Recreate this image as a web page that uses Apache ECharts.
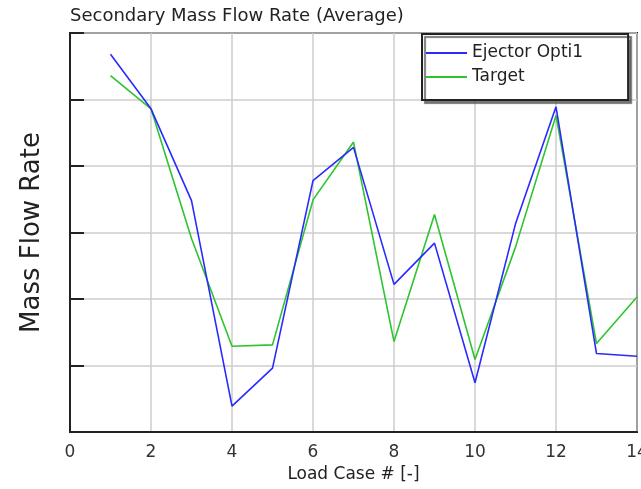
<!DOCTYPE html>
<html>
<head>
<meta charset="utf-8">
<script src="https://cdn.jsdelivr.net/npm/echarts@6/dist/echarts.min.js"></script>
<style>
  html, body { margin: 0; padding: 0; background: #fff; }
  #chart { width: 641px; height: 489px; }
</style>
</head>
<body>
<div id="chart"></div>
<script>
// Load cases along the x axis
const loadCases = [1, 2, 3, 4, 5, 6, 7, 8, 9, 10, 11, 12, 13, 14];
// Secondary mass flow rate (average), arbitrary units
const ejectorOpti1 = [5.68, 4.86, 3.48, 0.39, 0.96, 3.78, 4.28, 2.22, 2.84, 0.74, 3.13, 4.89, 1.18, 1.14];
const target = [5.36, 4.86, 2.91, 1.29, 1.31, 3.49, 4.36, 1.36, 3.27, 1.09, 2.78, 4.76, 1.33, 2.03];
const xTicks = [0, 2, 4, 6, 8, 10, 12, 14];

const FONT = 'DejaVu Sans';
const pairs = (ys) => loadCases.map((x, i) => [x, ys[i]]);

const chart = echarts.init(document.getElementById('chart'), null, { renderer: 'canvas' });
chart.setOption({
  animation: false,
  backgroundColor: '#fff',
  title: {
    text: 'Secondary Mass Flow Rate (Average)',
    left: 70,
    top: 7,
    padding: 0,
    textStyle: { fontFamily: FONT, fontSize: 18, fontWeight: 'normal', color: '#222' }
  },
  legend: {
    left: 422,
    top: 34,
    orient: 'vertical',
    padding: [7, 45, 11, 4],
    itemGap: 0,
    itemWidth: 41,
    itemHeight: 2,
    icon: 'rect',
    backgroundColor: '#fff',
    borderColor: '#222',
    borderWidth: 2,
    shadowColor: 'rgba(90,90,90,0.8)',
    shadowBlur: 1,
    shadowOffsetX: 3,
    shadowOffsetY: 3,
    textStyle: { fontFamily: FONT, fontSize: 17, color: '#222', lineHeight: 24 }
  },
  grid: {
    left: 70,
    right: 4,
    top: 33,
    bottom: 57,
    outerBoundsMode: 'none',
    containLabel: false,
    show: true,
    borderColor: '#222',
    borderWidth: 2
  },
  xAxis: {
    type: 'value',
    min: xTicks[0],
    max: xTicks[xTicks.length - 1],
    interval: 2,
    name: 'Load Case # [-]',
    nameLocation: 'middle',
    nameGap: 30,
    nameTextStyle: { fontFamily: FONT, fontSize: 17, color: '#222' },
    axisLine: { show: true, lineStyle: { color: '#222', width: 2 } },
    axisTick: { show: false },
    axisLabel: { margin: 12, fontFamily: FONT, fontSize: 17, color: '#333' },
    splitLine: { show: true, lineStyle: { color: '#cccccc', width: 1.5 } }
  },
  yAxis: {
    type: 'value',
    min: 0,
    max: 6,
    interval: 1,
    name: 'Mass Flow Rate',
    nameLocation: 'middle',
    nameRotate: 90,
    nameGap: 25,
    nameTextStyle: { fontFamily: FONT, fontSize: 26, color: '#222' },
    axisLine: { show: true, lineStyle: { color: '#222', width: 2 } },
    axisTick: { show: true, inside: true, length: 14, lineStyle: { color: '#222', width: 2 } },
    axisLabel: { show: false },
    splitLine: { show: true, lineStyle: { color: '#cccccc', width: 1.5 } }
  },
  series: [
    {
      name: 'Ejector Opti1',
      type: 'line',
      data: pairs(ejectorOpti1),
      symbol: 'none',
      color: '#2a2aff',
      lineStyle: { width: 1.6, color: '#2a2aff' },
      z: 3
    },
    {
      name: 'Target',
      type: 'line',
      data: pairs(target),
      symbol: 'none',
      color: '#2ec42e',
      lineStyle: { width: 1.6, color: '#2ec42e' },
      z: 2
    }
  ]
});
</script>
</body>
</html>
